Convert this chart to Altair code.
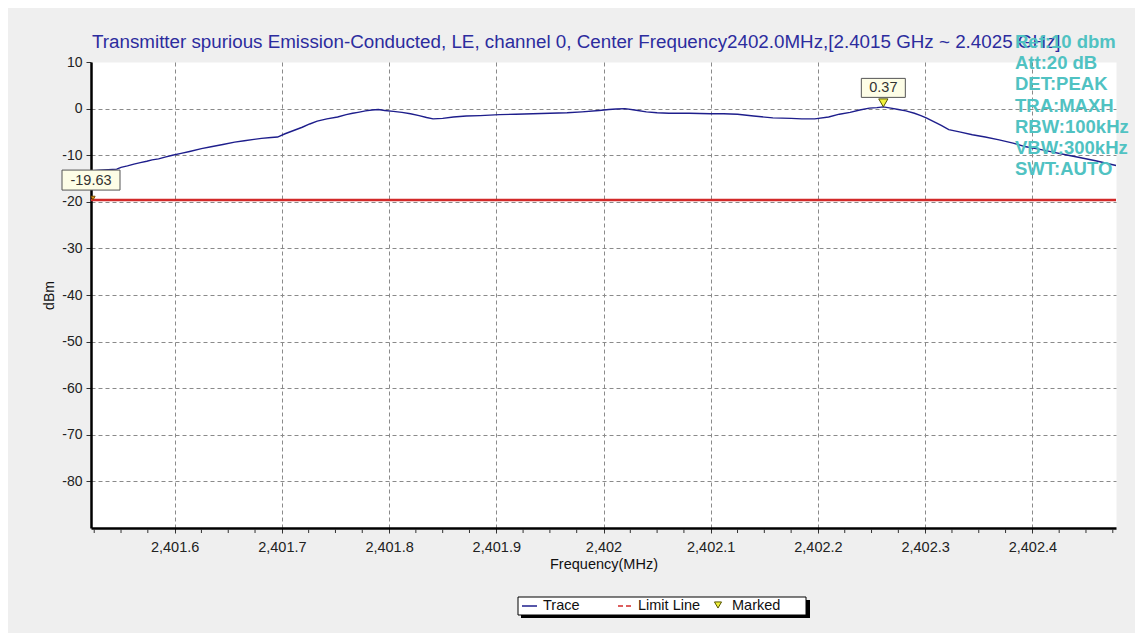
import altair as alt
import pandas as pd

# ---------------- data ----------------
freq = [2401.522, 2401.530, 2401.538, 2401.546, 2401.550, 2401.556, 2401.562, 2401.568,
        2401.574, 2401.579, 2401.585, 2401.591, 2401.598, 2401.606, 2401.614, 2401.625,
        2401.634, 2401.645, 2401.656, 2401.665, 2401.674, 2401.681, 2401.690, 2401.696,
        2401.703, 2401.711, 2401.719, 2401.726, 2401.733, 2401.742, 2401.752, 2401.760,
        2401.766, 2401.771, 2401.778, 2401.784, 2401.790, 2401.796, 2401.804, 2401.812,
        2401.820, 2401.828, 2401.835, 2401.841, 2401.850, 2401.860, 2401.872, 2401.885,
        2401.903, 2401.918, 2401.934, 2401.950, 2401.966, 2401.980, 2401.996, 2402.005,
        2402.012, 2402.020, 2402.029, 2402.040, 2402.050, 2402.061, 2402.080, 2402.100,
        2402.112, 2402.125, 2402.140, 2402.158, 2402.175, 2402.185, 2402.197, 2402.210,
        2402.220, 2402.230, 2402.239, 2402.248, 2402.255, 2402.261, 2402.268, 2402.275,
        2402.282, 2402.290, 2402.296, 2402.301, 2402.308, 2402.315, 2402.322, 2402.332,
        2402.344, 2402.356, 2402.369, 2402.382, 2402.394, 2402.406, 2402.418, 2402.431,
        2402.444, 2402.459, 2402.474, 2402.478]
dbm = [-13.4, -13.2, -13.1, -13.0, -12.6, -12.3, -11.9, -11.6,
       -11.3, -11.0, -10.8, -10.4, -10.0, -9.6, -9.2, -8.6,
       -8.2, -7.7, -7.2, -6.9, -6.6, -6.4, -6.2, -6.1,
       -5.4, -4.7, -4.0, -3.3, -2.7, -2.2, -1.8, -1.3,
       -1.0, -0.8, -0.5, -0.3, -0.2, -0.4, -0.6, -0.8,
       -1.1, -1.5, -1.9, -2.2, -2.1, -1.8, -1.6, -1.5,
       -1.3, -1.2, -1.1, -1.0, -0.9, -0.7, -0.4, -0.2,
       -0.1, 0.0, -0.3, -0.7, -0.9, -1.0, -1.0, -1.1,
       -1.1, -1.2, -1.6, -2.0, -2.1, -2.2, -2.2, -1.8,
       -1.2, -0.8, -0.3, 0.1, 0.2, 0.37, 0.1, -0.2,
       -0.5, -1.0, -1.5, -2.0, -2.8, -3.6, -4.5, -5.0,
       -5.6, -6.1, -6.7, -7.4, -8.2, -8.7, -9.3, -9.9,
       -10.5, -11.2, -12.0, -12.2]

limit_value = [-19.63]

marker_freq = [2402.261, 2401.522]
marker_dbm = [0.37, -19.63]
marker_label = ["0.37", "-19.63"]

x_ticks = [2401.6, 2401.7, 2401.8, 2401.9, 2402.0, 2402.1, 2402.2, 2402.3, 2402.4]
x_minor = [2401.525, 2401.55, 2401.575, 2401.625, 2401.65, 2401.675, 2401.725, 2401.75,
           2401.775, 2401.825, 2401.85, 2401.875, 2401.925, 2401.95, 2401.975, 2402.025,
           2402.05, 2402.075, 2402.125, 2402.15, 2402.175, 2402.225, 2402.25, 2402.275,
           2402.325, 2402.35, 2402.375, 2402.425, 2402.45, 2402.475]
y_ticks = [-80, -70, -60, -50, -40, -30, -20, -10, 0, 10]

title_text = ("Transmitter spurious Emission-Conducted, LE, channel 0, "
              "Center Frequency2402.0MHz,[2.4015 GHz ~ 2.4025 GHz]")
info_lines = ["Ref:10 dbm", "Att:20 dB", "DET:PEAK", "TRA:MAXH",
              "RBW:100kHz", "VBW:300kHz", "SWT:AUTO"]
legend_labels = ["Trace", "Limit Line", "Marked"]

# ---------------- tables ----------------
trace_df = pd.DataFrame({"freq": freq, "dbm": dbm})
limit_df = pd.DataFrame({"dbm": limit_value})
marker_df = pd.DataFrame({"freq": marker_freq, "dbm": marker_dbm, "label": marker_label})
minor_df = pd.DataFrame({"freq": x_minor})
dummy = pd.DataFrame({"k": [0]})

FONT = "Liberation Sans"
NAVY = "#1e1e8c"
RED = "#d22a2a"
TEAL = "#50c2c2"

x_scale = alt.Scale(domain=[2401.522, 2402.478], nice=False, zero=False)
y_scale = alt.Scale(domain=[-90, 10], nice=False, zero=False)

X = alt.X("freq:Q", scale=x_scale, title="Frequency(MHz)",
          axis=alt.Axis(values=x_ticks, format=",.1~f", grid=True,
                        gridDash=[4, 3], gridColor="#8a8a8a", gridWidth=1,
                        domainColor="black", domainWidth=2.5,
                        tickColor="#333333", tickSize=5,
                        labelFontSize=14.5, labelColor="#222222", labelPadding=7,
                        titleFontSize=14.5, titleFontWeight="normal",
                        titleColor="#111111", titlePadding=4))
Y = alt.Y("dbm:Q", scale=y_scale, title="dBm",
          axis=alt.Axis(values=y_ticks, grid=True, labelExpr="'' + datum.value",
                        gridDash=[4, 3], gridColor="#8a8a8a", gridWidth=1,
                        gridOpacity={"condition": {"test": "datum.value === 10", "value": 0},
                                     "value": 1},
                        domainColor="black", domainWidth=2.5,
                        tickColor="#333333", tickSize=5,
                        labelFontSize=14, labelColor="#222222", labelPadding=4,
                        titleFontSize=14, titleFontWeight="normal",
                        titleColor="#111111", titlePadding=5))

trace = alt.Chart(trace_df).mark_line(color=NAVY, strokeWidth=1.4).encode(x=X, y=Y)

limit = alt.Chart(limit_df).mark_rule(color=RED, strokeWidth=2.5).encode(y=Y)

minor = alt.Chart(minor_df).mark_rule(color="#333333", strokeWidth=1).encode(
    x=X, y=alt.value(467), y2=alt.value(471))

m0 = marker_df.iloc[[0]]
m1 = marker_df.iloc[[1]]
box0 = alt.Chart(m0).mark_rect(width=44, height=19, yOffset=-19, fill="#fdfde6",
                               stroke="#555555", strokeWidth=1).encode(x=X, y=Y)
box1 = alt.Chart(m1).mark_rect(width=58, height=20, yOffset=-20, fill="#fdfde6",
                               stroke="#555555", strokeWidth=1).encode(x=X, y=Y)
box_text = alt.Chart(marker_df).mark_text(font=FONT, fontSize=14.5, color="#333333",
                                          dy=-19, baseline="middle").encode(
    x=X, y=Y, text="label:N")
tri0 = alt.Chart(m0).mark_point(shape="triangle-down", filled=True, fill="#f2f23c",
                                stroke="#555500", strokeWidth=1, size=85, opacity=1,
                                yOffset=-4).encode(x=X, y=Y)
tri1 = alt.Chart(m1).mark_point(shape="triangle-down", filled=True, fill="#e0a020",
                                stroke="#7a4a00", strokeWidth=1, size=18, opacity=1,
                                xOffset=2, yOffset=-2).encode(x=X, y=Y)

title = alt.Chart(dummy).mark_text(font=FONT, fontSize=18.8, color="#2c2c9e",
                                   align="left", baseline="middle").encode(
    x=alt.value(1), y=alt.value(-20), text=alt.value(title_text))

info = alt.Chart(dummy).mark_text(font=FONT, fontSize=18.5, fontWeight="bold", color=TEAL,
                                  align="left", baseline="top", lineHeight=21.2).encode(
    x=alt.value(924), y=alt.value(-29), text=alt.value(info_lines))

# legend box (drawn by hand)
shadow = alt.Chart(dummy).mark_rect(color="black").encode(
    x=alt.value(430), x2=alt.value(719), y=alt.value(538), y2=alt.value(556))
lbox = alt.Chart(dummy).mark_rect(fill="white", stroke="black", strokeWidth=1).encode(
    x=alt.value(427), x2=alt.value(715), y=alt.value(535), y2=alt.value(553))
leg_trace = alt.Chart(dummy).mark_rule(color=NAVY, strokeWidth=1.5).encode(
    x=alt.value(431), x2=alt.value(446), y=alt.value(544))
leg_limit = alt.Chart(dummy).mark_rule(color=RED, strokeWidth=1.5, strokeDash=[5, 3]).encode(
    x=alt.value(527), x2=alt.value(542), y=alt.value(544))
leg_mark = alt.Chart(dummy).mark_point(shape="triangle-down", filled=True, fill="#f2f23c",
                                       stroke="#555500", strokeWidth=1, size=50,
                                       opacity=1).encode(x=alt.value(627), y=alt.value(543))
leg_t1 = alt.Chart(dummy).mark_text(font=FONT, fontSize=14.5, color="#111111", align="left",
                                    baseline="middle").encode(
    x=alt.value(452), y=alt.value(544), text=alt.value(legend_labels[0]))
leg_t2 = alt.Chart(dummy).mark_text(font=FONT, fontSize=14.5, color="#111111", align="left",
                                    baseline="middle").encode(
    x=alt.value(547), y=alt.value(544), text=alt.value(legend_labels[1]))
leg_t3 = alt.Chart(dummy).mark_text(font=FONT, fontSize=14.5, color="#111111", align="left",
                                    baseline="middle").encode(
    x=alt.value(641), y=alt.value(544), text=alt.value(legend_labels[2]))

chart = alt.layer(
    minor, limit, trace, tri1, tri0, box0, box1, box_text, title, info,
    shadow, lbox, leg_trace, leg_limit, leg_mark, leg_t1, leg_t2, leg_t3,
).properties(
    width=1025, height=466,
    background="#efefef",
    padding={"left": 83, "top": 54, "right": 19, "bottom": 105},
    autosize=alt.AutoSizeParams(type="none"),
).configure_view(
    stroke="transparent", fill="white"
).configure_axis(
    labelFont=FONT, titleFont=FONT
)

chart.save("out.html", embed_options={"renderer": "svg", "actions": False})
